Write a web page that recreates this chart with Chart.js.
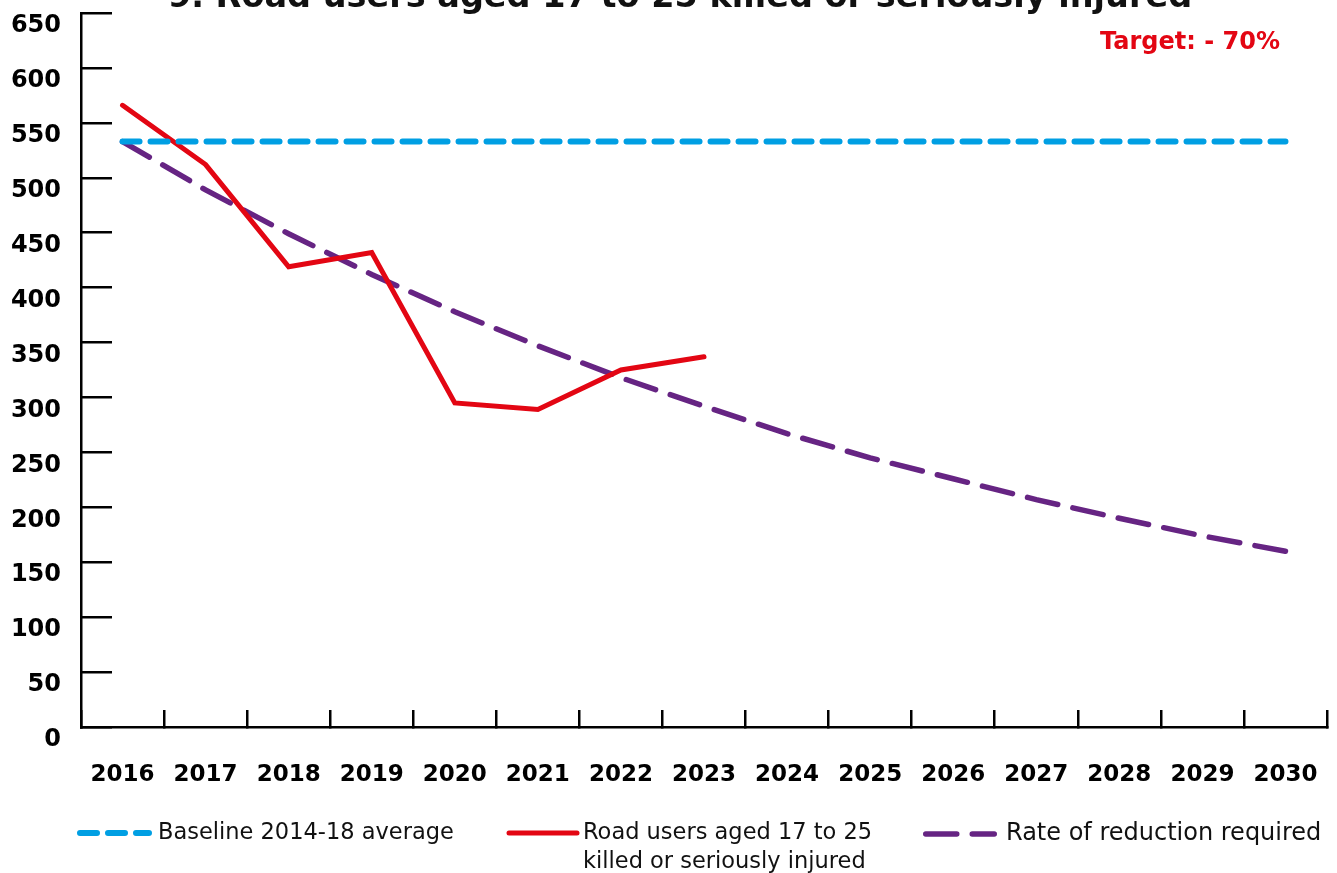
<!DOCTYPE html>
<html>
<head>
<meta charset="utf-8">
<script src="https://cdn.jsdelivr.net/npm/chart.js@4/dist/chart.umd.min.js"></script>
<style>
  html, body { margin: 0; padding: 0; background: #ffffff; }
  #wrap { width: 1337px; height: 873px; position: relative; }
</style>
</head>
<body>
<div id="wrap"><canvas id="c" width="1337" height="873"></canvas></div>
<script>
// ---- data ----
const titleText = "9. Road users aged 17 to 25 killed or seriously injured";
const targetText = "Target: - 70%";
const years = ["2016","2017","2018","2019","2020","2021","2022","2023","2024","2025","2026","2027","2028","2029","2030"];
const baselineValues = [533,533,533,533,533,533,533,533,533,533,533,533,533,533,533];
const casualtyValues = [566,512,419,432,295,289,325,337,null,null,null,null,null,null,null];
const reductionValues = [533,489,449,412,378,347,318,292,267,245,226,207,190,174,160];
const seriesLabels = [
  ["Baseline 2014-18 average"],
  ["Road users aged 17 to 25", "killed or seriously injured"],
  ["Rate of reduction required"]
];
const yTickMin = 0, yTickMax = 650, yTickStep = 50;

const BLUE = "#009fe3", RED = "#e30613", PURPLE = "#662483";
const FONT = "'DejaVu Sans', sans-serif";

const titlePlugin = {
  id: "titleTarget",
  afterDraw(chart) {
    const ctx = chart.ctx;
    ctx.save();
    ctx.fillStyle = "#111";
    ctx.font = "bold 33.5px " + FONT;
    ctx.textAlign = "center";
    ctx.textBaseline = "alphabetic";
    ctx.fillText(titleText, 680, 7);
    ctx.fillStyle = RED;
    ctx.font = "bold 24px " + FONT;
    ctx.textAlign = "right";
    ctx.fillText(targetText, 1280, 49);
    ctx.restore();
  }
};

const legendPlugin = {
  id: "customLegend",
  afterDraw(chart) {
    const ctx = chart.ctx;
    const items = [
      { x0: 80, x1: 149, tx: 158, y: 833, size: 22.5 },
      { x0: 509, x1: 577, tx: 583, y: 833, size: 22.5 },
      { x0: 925.75, x1: 994.25, tx: 1006, y: 834, size: 24 }
    ];
    chart.data.datasets.forEach((ds, i) => {
      const it = items[i];
      ctx.save();
      ctx.strokeStyle = ds.borderColor;
      ctx.lineWidth = ds.borderWidth;
      ctx.lineCap = "round";
      ctx.setLineDash(ds.borderDash || []);
      ctx.beginPath();
      ctx.moveTo(it.x0, it.y);
      ctx.lineTo(it.x1, it.y);
      ctx.stroke();
      ctx.setLineDash([]);
      ctx.fillStyle = "#111";
      ctx.font = it.size + "px " + FONT;
      ctx.textAlign = "left";
      ctx.textBaseline = "middle";
      seriesLabels[i].forEach((line, j) => {
        ctx.fillText(line, it.tx, it.y + j * 29);
      });
      ctx.restore();
    });
  }
};

new Chart(document.getElementById("c"), {
  type: "line",
  data: {
    labels: years,
    datasets: [
      {
        label: seriesLabels[0].join(" "),
        data: baselineValues,
        borderColor: BLUE,
        borderWidth: 6,
        borderDash: [17, 11],
        borderCapStyle: "round",
        pointRadius: 0,
        tension: 0,
        fill: false
      },
      {
        label: seriesLabels[1].join(" "),
        data: casualtyValues,
        borderColor: RED,
        borderWidth: 5,
        borderCapStyle: "round",
        pointRadius: 0,
        tension: 0,
        spanGaps: false,
        fill: false
      },
      {
        label: seriesLabels[2].join(" "),
        data: reductionValues,
        borderColor: PURPLE,
        borderWidth: 5.5,
        borderDash: [31, 15.5],
        borderCapStyle: "round",
        pointRadius: 0,
        tension: 0,
        fill: false
      }
    ]
  },
  options: {
    responsive: false,
    animation: false,
    devicePixelRatio: 1,
    layout: { padding: { top: 13, right: 10, bottom: 0, left: 0 } },
    plugins: {
      legend: { display: false },
      title: { display: false },
      tooltip: { enabled: false }
    },
    scales: {
      x: {
        type: "category",
        offset: true,
        grid: {
          offset: true,
          drawOnChartArea: false,
          drawTicks: true,
          tickLength: -17,
          color: "#000",
          lineWidth: 2.5
        },
        border: { display: true, color: "#000", width: 2.5 },
        ticks: {
          color: "#000",
          font: { family: FONT, size: 23, weight: "bold" },
          padding: 51,
          maxRotation: 0,
          autoSkip: false
        },
        afterFit(scale) {
          scale.height = 146;
          scale.paddingLeft = 0; scale.paddingRight = 0;
          scale.paddingTop = 0; scale.paddingBottom = 0;
        }
      },
      y: {
        min: yTickMin,
        max: yTickMax,
        grid: {
          drawOnChartArea: false,
          drawTicks: true,
          tickLength: -31,
          color: "#000",
          lineWidth: 2.5
        },
        border: { display: true, color: "#000", width: 2.5 },
        ticks: {
          stepSize: yTickStep,
          color: "#000",
          font: { family: FONT, size: 24, weight: "bold" },
          padding: 51,
          labelOffset: 13
        },
        afterFit(scale) {
          scale.width = 81;
          scale.paddingLeft = 0; scale.paddingRight = 0;
          scale.paddingTop = 0; scale.paddingBottom = 0;
        }
      }
    }
  },
  plugins: [titlePlugin, legendPlugin]
});
</script>
</body>
</html>
